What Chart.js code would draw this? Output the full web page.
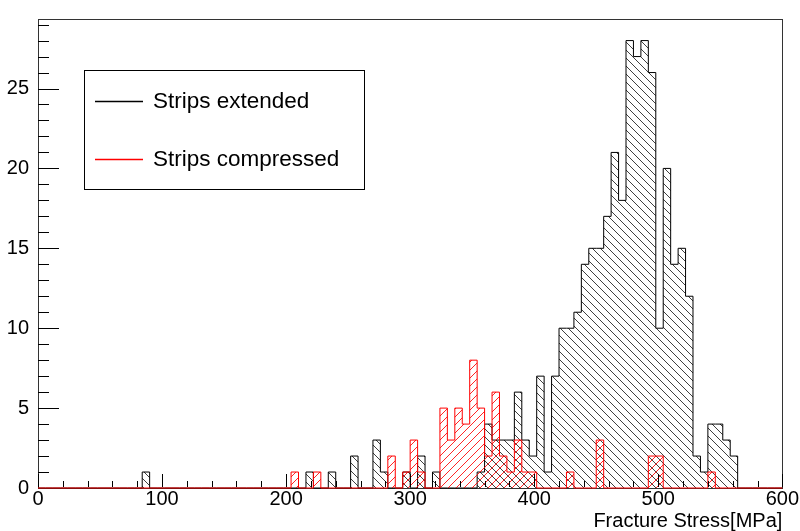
<!DOCTYPE html>
<html>
<head>
<meta charset="utf-8">
<script src="https://cdn.jsdelivr.net/npm/chart.js@4"></script>
<style>
  html, body { margin: 0; padding: 0; background: #fff; }
  #wrap { width: 800px; height: 531px; }
</style>
</head>
<body>
<div id="wrap"><canvas id="histo" width="800" height="531"></canvas></div>
<script>
// binning of the fracture stress histograms (MPa)
const histMin = 0;
const binWidth = 6;

// entries per bin, 100 bins from 0 to 600
const extendedCounts = [
  0, 0, 0, 0, 0, 0, 0, 0, 0, 0,
  0, 0, 0, 0, 1, 0, 0, 0, 0, 0,
  0, 0, 0, 0, 0, 0, 0, 0, 0, 0,
  0, 0, 0, 0, 0, 0, 1, 0, 0, 1,
  0, 0, 2, 0, 0, 3, 1, 0, 0, 1,
  0, 2, 0, 1, 0, 0, 0, 0, 0, 1,
  4, 3, 3, 3, 6, 3, 2, 7, 1, 7,
  10, 10, 11, 14, 15, 15, 17, 21, 18, 28,
  27, 28, 26, 10, 20, 14, 15, 12, 2, 1,
  4, 4, 3, 2, 0, 0, 0, 0, 0, 0
];
const compressedCounts = [
  0, 0, 0, 0, 0, 0, 0, 0, 0, 0,
  0, 0, 0, 0, 0, 0, 0, 0, 0, 0,
  0, 0, 0, 0, 0, 0, 0, 0, 0, 0,
  0, 0, 0, 0, 1, 0, 0, 1, 0, 0,
  0, 0, 0, 0, 0, 0, 0, 2, 0, 1,
  3, 1, 0, 0, 5, 3, 5, 4, 8, 5,
  2, 6, 2, 1, 3, 1, 1, 0, 0, 0,
  0, 1, 0, 0, 0, 3, 0, 0, 0, 0,
  0, 0, 2, 2, 0, 0, 0, 0, 0, 0,
  1, 0, 0, 0, 0, 0, 0, 0, 0, 0
];

const seriesNames = ['Strips extended', 'Strips compressed'];
const seriesColors = ['#000000', '#ff0000'];
const xTicks = [0, 100, 200, 300, 400, 500, 600];
const yTicks = [0, 5, 10, 15, 20, 25];
const xRange = [0, 600];
const yRange = [0, 29.35];
const xTitle = 'Fracture Stress[MPa]';

const FONT = "'Liberation Sans', Arial, Helvetica, sans-serif";

// step outline points: left edge of each bin, then close at the last edge
function toSteps(counts) {
  const pts = counts.map((c, i) => ({ x: histMin + i * binWidth, y: c }));
  pts.push({ x: histMin + counts.length * binWidth, y: 0 });
  return pts;
}

function hatch(color, forward) {
  const s = 8;
  const c = document.createElement('canvas');
  c.width = s;
  c.height = s;
  const g = c.getContext('2d');
  g.strokeStyle = color;
  g.lineWidth = 1;
  g.beginPath();
  if (forward) {
    g.moveTo(-2, s + 2); g.lineTo(s + 2, -2);
  } else {
    g.moveTo(-2, -2); g.lineTo(s + 2, s + 2);
  }
  g.stroke();
  return g.createPattern(c, 'repeat');
}

// frame under the histograms, ROOT style ticks inside it on top
const frameTicks = {
  id: 'frameTicks',
  beforeDatasetsDraw(chart) {
    const { ctx, chartArea: a } = chart;
    ctx.save();
    ctx.strokeStyle = '#333';
    ctx.lineWidth = 1;
    ctx.strokeRect(Math.round(a.left) + 0.5, Math.round(a.top) + 0.5,
      Math.round(a.right - a.left), Math.round(a.bottom - a.top));
    ctx.restore();
  },
  afterDatasetsDraw(chart) {
    const { ctx, chartArea: a } = chart;
    const xs = chart.scales.x, ys = chart.scales.y;
    ctx.save();
    ctx.strokeStyle = '#000';
    ctx.lineWidth = 1;
    ctx.beginPath();
    for (let v = yRange[0] + 1; v <= yRange[1]; v += 1) {
      const y = Math.round(ys.getPixelForValue(v)) + 0.5;
      const len = v % 5 === 0 ? 21 : 11;
      ctx.moveTo(a.left, y);
      ctx.lineTo(a.left + len, y);
    }
    for (let v = xRange[0]; v <= xRange[1]; v += 20) {
      const x = Math.round(xs.getPixelForValue(v)) + 0.5;
      const len = v % 100 === 0 ? 14 : 7;
      ctx.moveTo(x, a.bottom - 1);
      ctx.lineTo(x, a.bottom - len);
    }
    ctx.stroke();
    ctx.restore();
  }
};

// TLegend-like box inside the pad
const boxLegend = {
  id: 'boxLegend',
  afterDraw(chart) {
    const { ctx } = chart;
    const box = { x: 84, y: 70, w: 280, h: 119 };
    const rows = [101.5, 159.5];
    ctx.save();
    ctx.fillStyle = '#fff';
    ctx.fillRect(box.x, box.y, box.w, box.h);
    ctx.strokeStyle = '#000';
    ctx.lineWidth = 1;
    ctx.strokeRect(box.x + 0.5, box.y + 0.5, box.w, box.h);
    seriesNames.forEach((name, i) => {
      const y = rows[i];
      ctx.strokeStyle = seriesColors[i];
      ctx.lineWidth = 1.3;
      ctx.beginPath();
      ctx.moveTo(95, y);
      ctx.lineTo(143, y);
      ctx.stroke();
      ctx.fillStyle = '#000';
      ctx.font = '22.5px ' + FONT;
      ctx.textBaseline = 'alphabetic';
      ctx.textAlign = 'left';
      ctx.fillText(name, 153, y + 6.5);
    });
    ctx.restore();
  }
};

new Chart(document.getElementById('histo'), {
  type: 'line',
  data: {
    datasets: [{
      label: seriesNames[0],
      data: toSteps(extendedCounts),
      stepped: 'before',
      borderColor: seriesColors[0],
      borderWidth: 1,
      backgroundColor: hatch('rgba(0,0,0,0.75)', false),
      fill: 'origin',
      pointRadius: 0,
      clip: false,
      order: 2
    }, {
      label: seriesNames[1],
      data: toSteps(compressedCounts),
      stepped: 'before',
      borderColor: seriesColors[1],
      borderWidth: 1,
      backgroundColor: hatch('rgba(255,0,0,0.85)', true),
      fill: 'origin',
      pointRadius: 0,
      clip: false,
      order: 1
    }]
  },
  options: {
    responsive: false,
    animation: false,
    devicePixelRatio: 1,
    layout: { padding: { top: 11, right: 17, left: 0, bottom: 0 } },
    plugins: {
      legend: { display: false },
      tooltip: { enabled: false }
    },
    scales: {
      x: {
        type: 'linear',
        min: xRange[0],
        max: xRange[1],
        grid: { display: false, drawTicks: false },
        border: { display: false },
        afterBuildTicks: (axis) => { axis.ticks = xTicks.map(v => ({ value: v })); },
        afterFit: (axis) => { axis.height = 43; },
        ticks: {
          autoSkip: false,
          maxRotation: 0,
          padding: 1,
          color: '#000',
          font: { family: FONT, size: 20, lineHeight: 1 }
        },
        title: {
          display: true,
          text: xTitle,
          align: 'end',
          color: '#000',
          padding: 0,
          font: { family: FONT, size: 20, lineHeight: 1 }
        }
      },
      y: {
        min: yRange[0],
        max: yRange[1],
        grid: { display: false, drawTicks: false },
        border: { display: false },
        afterBuildTicks: (axis) => { axis.ticks = yTicks.map(v => ({ value: v })); },
        afterFit: (axis) => { axis.width = 38; },
        ticks: {
          padding: 9,
          color: '#000',
          font: { family: FONT, size: 20, lineHeight: 1 }
        }
      }
    }
  },
  plugins: [frameTicks, boxLegend]
});
</script>
</body>
</html>
